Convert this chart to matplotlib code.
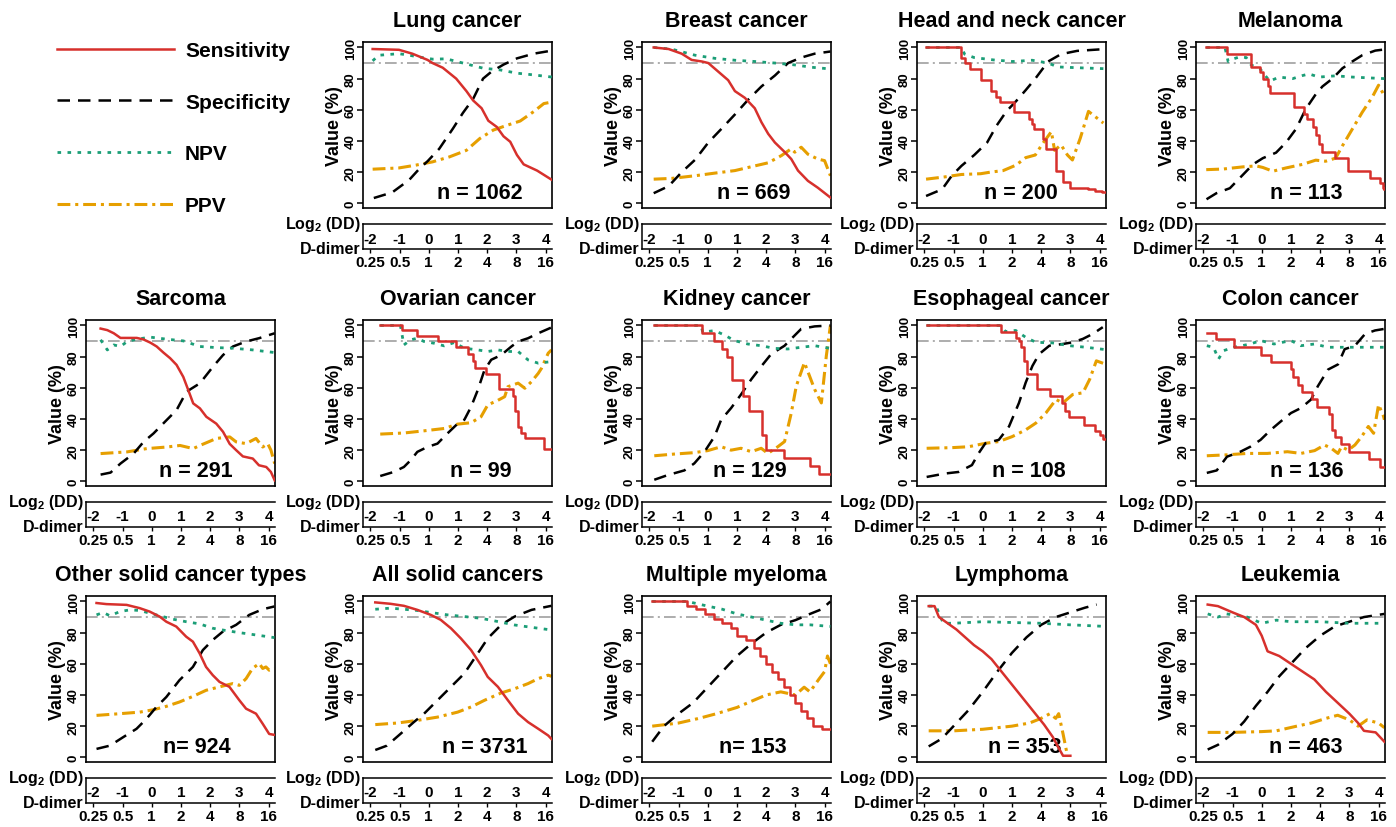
import matplotlib
matplotlib.use('Agg')
import matplotlib.pyplot as plt
from matplotlib.transforms import blended_transform_factory

plt.rcParams['font.family'] = ['Liberation Sans', 'DejaVu Sans']
plt.rcParams['font.weight'] = 'bold'
plt.rcParams['mathtext.fontset'] = 'custom'
plt.rcParams['mathtext.rm'] = 'Liberation Sans:bold'
plt.rcParams['mathtext.it'] = 'Liberation Sans:bold'
plt.rcParams['mathtext.bf'] = 'Liberation Sans:bold'

# ---------------- data ----------------
titles = ['Lung cancer', 'Breast cancer', 'Head and neck cancer', 'Melanoma',
          'Sarcoma', 'Ovarian cancer', 'Kidney cancer', 'Esophageal cancer', 'Colon cancer',
          'Other solid cancer types', 'All solid cancers', 'Multiple myeloma', 'Lymphoma', 'Leukemia']
n_labels = ['n = 1062', 'n = 669', 'n = 200', 'n = 113',
            'n = 291', 'n = 99', 'n = 129', 'n = 108', 'n = 136',
            'n= 924', 'n = 3731', 'n= 153', 'n = 353', 'n = 463']
log2_ticks = [-2, -1, 0, 1, 2, 3, 4]
ddimer_labels = ['0.25', '0.5', '1', '2', '4', '8', '16']
series_names = ['Sensitivity', 'Specificity', 'NPV', 'PPV']
reference_level = 90

# Lung
lung_sens_x = [-1.92, -1.02, -0.56, -0.04, 0.13, 0.48, 0.94, 1.29, 1.52, 1.81, 2.04, 2.33, 2.56, 2.79, 3.02, 3.25, 3.71, 4.22]
lung_sens_y = [99, 98.5, 96, 92, 90, 87, 80, 72, 66, 61, 53, 49, 43, 39.5, 31, 25, 21, 15]
lung_spec_x = [-1.88, -1.25, -0.67, -0.33, -0.04, 0.36, 0.83, 1.17, 1.52, 1.86, 2.15, 2.56, 3.02, 3.59, 4.22]
lung_spec_y = [3.4, 7, 15, 22, 27, 35, 48, 58, 67, 80, 84.5, 89, 93, 96, 98]
lung_npv_x = [-1.92, -1.71, -1.02, -0.67, -0.21, 0.13, 0.6, 1.17, 1.86, 2.44, 3.02, 3.59, 4.22]
lung_npv_y = [91.4, 95, 96, 95, 93.5, 92.5, 92.7, 90, 86.7, 85.6, 83.5, 82.4, 81]
lung_ppv_x = [-1.92, -1.02, -0.44, 0.13, 0.71, 1.29, 1.75, 2.21, 2.67, 3.13, 3.59, 3.94, 4.22]
lung_ppv_y = [21.9, 22.7, 24.5, 26.6, 29.8, 34, 41.6, 47, 50, 52.8, 58.8, 64, 65]

# Breast
breast_sens_x = [-1.85, -1.34, -0.89, -0.55, -0.2, 0.02, 0.36, 0.7, 0.93, 1.27, 1.61, 1.84, 2.07, 2.3, 2.64, 2.86, 3.09, 3.43, 3.77, 4.2]
breast_sens_y = [100, 99, 96, 92, 91, 90, 84.5, 79, 72, 67.7, 61, 52, 44.6, 39, 32.8, 28.4, 21, 14.4, 10, 3.7]
breast_spec_x = [-1.85, -1.34, -0.89, -0.43, 0.02, 0.48, 0.93, 1.39, 1.84, 2.3, 2.75, 3.2, 3.66, 4.2]
breast_spec_y = [6.5, 11, 20, 28, 39, 48, 57, 66.6, 75, 82, 90, 93.5, 96, 97.4]
breast_npv_x = [-1.85, -1.23, -0.43, 0.25, 0.93, 1.61, 2.3, 2.98, 3.55, 4.2]
breast_npv_y = [100, 98.9, 95, 93, 91.8, 91, 90, 88.8, 87.3, 86.2]
breast_ppv_x = [-1.85, -1.23, -0.43, 0.25, 0.93, 1.61, 2.07, 2.52, 2.86, 2.98, 3.2, 3.43, 3.77, 4.0, 4.2]
breast_ppv_y = [15.5, 16, 17.7, 19.4, 21, 24, 26, 30.6, 35, 32.8, 36, 31.5, 28.4, 27.4, 17.7]

# Head and neck
hn_sens_x = [-1.94, -0.73, -0.6, -0.45, -0.05, 0.3, 0.45, 0.6, 1.08, 1.6, 1.68, 1.74, 2.05, 2.15, 2.5, 2.75, 2.98, 3.6, 3.85, 4.1, 4.2]
hn_sens_y = [100, 93, 90, 86, 79, 72, 68, 65, 58.5, 54, 51, 48, 41, 35, 21, 14, 10, 9, 8, 7, 7]
hn_spec_x = [-1.94, -1.39, -1.06, -0.73, -0.29, 0.15, 0.48, 0.81, 1.14, 1.47, 1.8, 2.24, 2.68, 3.23, 4.13]
hn_spec_y = [4.7, 9, 17.7, 24, 31, 39, 50, 59, 65.5, 72.6, 80, 91, 95.7, 97.8, 98.9]
hn_npv_x = [-1.94, -0.73, -0.62, -0.29, 0.37, 1.03, 1.69, 2.24, 2.57, 3.23, 4.13]
hn_npv_y = [100, 100, 95.7, 93.5, 92, 91, 91.8, 90, 87.5, 87, 86.4]
hn_ppv_x = [-1.94, -1.28, -0.73, -0.07, 0.26, 0.7, 1.14, 1.47, 1.8, 2.02, 2.35, 2.46, 2.68, 2.9, 3.07, 3.34, 3.62, 4.13]
hn_ppv_y = [15.5, 17, 18.5, 19, 20, 21, 24.5, 29.3, 31, 37.5, 46, 34, 37.5, 31, 27.8, 41.8, 59, 51.5]

# Melanoma
mel_sens_x = [-1.9, -1.2, -0.38, -0.05, 0.04, 0.2, 0.3, 1.12, 1.45, 1.55, 1.74, 1.85, 1.96, 2.08, 2.5, 2.95, 3.7, 4.05, 4.15, 4.2]
mel_sens_y = [100, 96, 87.5, 84, 80, 75, 71, 62, 57, 54, 49, 44, 38, 33, 29, 21, 16, 13, 10, 9]
mel_spec_x = [-1.89, -1.55, -1.09, -0.64, -0.3, 0.04, 0.49, 0.83, 1.17, 1.51, 1.85, 2.08, 2.42, 2.76, 3.1, 3.44, 3.89, 4.2]
mel_spec_y = [2.6, 6.5, 9.7, 18.4, 25, 29, 32.5, 39, 47.6, 60.6, 70, 75, 80, 86.6, 91, 95, 98, 98.7]
mel_npv_x = [-1.9, -1.26, -1.15, -0.98, -0.75, -0.53, -0.36, -0.07, 0.27, 0.6, 1.06, 1.4, 1.62, 1.96, 2.53, 3.1, 4.2]
mel_npv_y = [100, 100, 91, 92.6, 94, 93.5, 88.7, 86.6, 78.4, 81, 80, 82, 83, 81, 81.8, 81, 80]
mel_ppv_x = [-1.9, -1.32, -0.64, -0.19, 0.04, 0.38, 0.83, 1.4, 1.85, 2.19, 2.53, 2.76, 3.1, 3.44, 3.78, 4.0, 4.17]
mel_ppv_y = [21.6, 22, 23.4, 24, 23, 20.6, 22.7, 25, 27.7, 27, 29, 36.8, 47.6, 58.4, 68, 75.8, 70]

# Sarcoma
sar_sens_x = [-1.75, -1.52, -1.3, -1.07, -0.51, -0.28, -0.05, 0.17, 0.4, 0.63, 0.85, 1.08, 1.25, 1.42, 1.65, 1.87, 2.21, 2.44, 2.67, 2.89, 3.12, 3.46, 3.67, 3.92, 4.08, 4.21]
sar_sens_y = [98, 97, 95, 92, 92, 91, 89, 86.5, 82.6, 79, 74.7, 67, 58.6, 50, 46.8, 41.4, 37, 31.8, 24, 20, 16, 14.6, 10.3, 9.2, 6, 0.6]
sar_spec_x = [-1.75, -1.41, -1.07, -0.62, -0.28, 0.06, 0.51, 0.85, 1.19, 1.65, 2.1, 2.44, 2.78, 3.23, 3.67, 4.21]
sar_spec_y = [4.3, 5.6, 11.4, 17.8, 25.3, 30.7, 39.3, 45.7, 57.5, 62.9, 73.6, 81, 86.5, 89.7, 91.8, 95]
sar_npv_x = [-1.75, -1.52, -1.3, -1.07, -0.84, -0.51, -0.05, 0.51, 1.08, 1.65, 2.21, 2.78, 3.46, 4.21]
sar_npv_y = [90.8, 84.3, 87.5, 86.5, 89.7, 91.2, 92.5, 91.2, 90.1, 86.5, 85.8, 85.4, 84.3, 82.6]
sar_ppv_x = [-1.75, -0.84, -0.17, 0.51, 0.97, 1.42, 1.65, 1.99, 2.21, 2.67, 2.89, 3.23, 3.57, 3.8, 3.97, 4.08, 4.21]
sar_ppv_y = [17.8, 18.9, 21, 22, 23, 21, 23, 25.7, 27.5, 28.5, 25.3, 24.2, 27.5, 22, 24.2, 20, 11.4]

# Ovarian
ova_sens_x = [-1.66, -0.92, -0.4, 0.33, 0.95, 1.35, 1.5, 1.6, 1.97, 2.4, 2.88, 2.95, 3.05, 3.15, 3.3, 3.95, 4.2]
ova_sens_y = [100, 97, 93, 90, 86, 82, 77, 72.5, 69, 59, 55, 45, 35, 31, 27.5, 21, 21]
ova_spec_x = [-1.66, -1.2, -0.85, -0.62, -0.39, -0.05, 0.3, 0.64, 0.99, 1.22, 1.45, 1.68, 1.91, 2.14, 2.48, 2.83, 3.06, 3.4, 3.75, 4.2]
ova_spec_y = [3.4, 6, 9.2, 13.5, 18.9, 22, 24.2, 30.7, 37, 39.5, 47.8, 58.6, 71.5, 78, 81, 86.5, 89.7, 91.8, 95, 98.7]
ova_npv_x = [-1.66, -0.97, -0.85, -0.62, -0.39, -0.16, 0.18, 0.53, 0.87, 1.22, 1.68, 2.02, 2.37, 2.71, 3.06, 3.4, 3.75, 4.2]
ova_npv_y = [100, 100, 87.5, 90.8, 91.8, 89.7, 88.6, 86.9, 89, 85.4, 84.3, 83.3, 84.3, 83.3, 83.3, 77.9, 75.8, 76.8]
ova_ppv_x = [-1.66, -0.85, -0.16, 0.53, 0.99, 1.45, 1.79, 2.02, 2.37, 2.6, 2.71, 3.06, 3.29, 3.52, 3.75, 3.86, 4.09, 4.2]
ova_ppv_y = [30.3, 31, 32.4, 33.9, 36.7, 37.6, 41.4, 49, 52, 54.3, 60.7, 63, 59.7, 64, 69.3, 72.5, 82.2, 84.3]

# Kidney
kid_sens_x = [-1.83, -0.2, 0.2, 0.5, 0.65, 0.83, 1.2, 1.4, 1.85, 2.0, 2.6, 3.5, 3.8, 4.2]
kid_sens_y = [100, 95, 90, 85, 80, 65, 55, 45, 30, 20, 15, 10, 5, 5]
kid_spec_x = [-1.83, -1.37, -0.8, -0.46, -0.11, 0.23, 0.46, 0.8, 1.14, 1.49, 1.83, 2.17, 2.63, 2.86, 3.2, 3.66, 4.2]
kid_spec_y = [1, 4, 7, 11.5, 19, 28.7, 39.5, 47, 55.7, 65.4, 73.7, 81.6, 87, 91.4, 97.8, 99.4, 100]
kid_npv_x = [-1.83, -0.23, -0.17, 0.23, 0.57, 0.91, 1.37, 1.83, 2.29, 2.74, 3.2, 3.66, 4.2]
kid_npv_y = [100, 100, 95.7, 96.7, 93.9, 90.3, 88.1, 87, 85.3, 84.9, 86, 87, 85.3]
kid_ppv_x = [-1.83, -1.14, -0.46, 0.0, 0.46, 0.8, 1.14, 1.49, 1.83, 2.06, 2.4, 2.63, 2.86, 3.03, 3.31, 3.66, 3.89, 4.06, 4.2]
kid_ppv_y = [16.4, 17.5, 18.4, 19.7, 22.2, 20, 21.2, 19, 21.2, 17.9, 22.2, 25.5, 43.8, 61, 76.2, 59, 50.3, 80.5, 100]

# Esophageal
eso_sens_x = [-1.92, 0.61, 1.15, 1.25, 1.3, 1.4, 1.5, 1.85, 2.3, 2.72, 2.82, 2.95, 3.45, 3.85, 4.0, 4.12, 4.2]
eso_sens_y = [100, 96, 92, 90, 86, 77, 69, 59, 54.5, 50, 45, 41, 36, 32, 30, 27, 27]
eso_spec_x = [-1.92, -1.29, -0.83, -0.37, -0.14, 0.09, 0.55, 0.9, 1.24, 1.47, 1.7, 1.93, 2.28, 2.74, 3.08, 3.43, 3.77, 4.11]
eso_spec_y = [2.8, 5, 6, 10.4, 18, 24.4, 26.6, 35.2, 50.3, 63.3, 74, 81.6, 87, 88.1, 89.2, 91.4, 94.6, 98.9]
eso_npv_x = [-1.92, 0.61, 0.78, 1.13, 1.47, 1.82, 2.39, 2.97, 3.54, 4.2]
eso_npv_y = [100, 100, 96.1, 96.8, 92.4, 89.2, 88.8, 87, 86, 84.5]
eso_ppv_x = [-1.92, -1.06, -0.48, 0.09, 0.55, 1.01, 1.47, 1.82, 2.16, 2.51, 2.74, 3.08, 3.43, 3.66, 3.89, 4.2]
eso_ppv_y = [21.2, 21.6, 22.2, 24.4, 25.5, 28.7, 33, 37.4, 43.8, 52.5, 50.3, 55.7, 56.8, 65.4, 77.3, 75.2]

# Colon
col_sens_x = [-1.88, -1.57, -0.96, -0.04, 0.31, 1.0, 1.08, 1.25, 1.38, 1.72, 1.9, 2.3, 2.4, 2.5, 2.7, 3.0, 3.68, 4.05, 4.2]
col_sens_y = [95, 91, 86, 81, 76.5, 72, 67, 62, 57, 52.5, 47.5, 43, 33, 28.5, 24, 19, 14.5, 9.5, 9.5]
col_spec_x = [-1.88, -1.54, -1.19, -0.73, -0.39, -0.04, 0.31, 0.65, 1.0, 1.34, 1.69, 1.92, 2.27, 2.61, 2.84, 3.19, 3.54, 3.88, 4.2]
col_spec_y = [5.4, 7, 15.8, 19, 22.2, 26.6, 33, 38.4, 43.8, 47, 52.5, 61, 71.7, 75, 84.8, 87, 94.6, 96.8, 97.8]
col_npv_x = [-1.88, -1.65, -1.48, -1.31, -0.96, -0.39, -0.04, 0.42, 1.0, 1.34, 1.81, 2.27, 2.96, 3.42, 4.2]
col_npv_y = [87, 86, 78.4, 83.8, 86, 88.1, 90.3, 88.1, 90.3, 87, 88.1, 86, 86, 86, 86]
col_ppv_x = [-1.88, -1.19, -0.5, 0.19, 0.88, 1.34, 1.81, 2.15, 2.38, 2.61, 2.73, 2.96, 3.19, 3.42, 3.65, 3.83, 4.0, 4.17, 4.2]
col_ppv_y = [16.4, 17, 17.9, 17.9, 19, 17.9, 19.7, 23.3, 21.2, 17.9, 22.2, 20, 23.3, 28.7, 35.2, 30.8, 49.2, 41.7, 39.5]

# Other solid cancer types
oth_sens_x = [-1.89, -1.55, -0.86, -0.41, -0.07, 0.27, 0.5, 0.84, 1.18, 1.41, 1.64, 1.86, 2.09, 2.32, 2.66, 3.0, 3.23, 3.57, 3.8, 4.02, 4.2]
oth_sens_y = [99, 98.3, 97.8, 95.7, 93.5, 90.3, 87, 83.9, 77.4, 74.2, 66.7, 58, 52.7, 48.4, 45.2, 36.6, 31.2, 28, 21.5, 15, 14.4]
oth_spec_x = [-1.89, -1.43, -0.98, -0.52, -0.18, 0.16, 0.5, 0.95, 1.41, 1.75, 2.09, 2.43, 2.89, 3.34, 3.8, 4.2]
oth_spec_y = [5.4, 7.5, 12.9, 18.3, 24.7, 32.3, 38.7, 49.5, 58, 68.8, 75.3, 80.6, 85, 91.4, 95, 96.8]
oth_npv_x = [-1.89, -1.66, -1.43, -1.09, -0.75, -0.41, -0.07, 0.27, 0.73, 1.18, 1.64, 2.09, 2.55, 3.0, 3.57, 4.2]
oth_npv_y = [91.4, 92.9, 90.8, 93.5, 94.6, 94.2, 92.5, 90.8, 88.6, 87, 85.6, 82.8, 81.3, 80, 78.5, 76.8]
oth_ppv_x = [-1.89, -1.09, -0.41, 0.05, 0.5, 0.95, 1.41, 1.86, 2.32, 2.77, 3.0, 3.23, 3.45, 3.68, 3.8, 3.91, 4.02, 4.2]
oth_ppv_y = [26.9, 28, 29, 30.5, 32.7, 35.5, 39.1, 43, 45.2, 47.3, 46.2, 50.5, 57, 60.2, 57, 58, 55.9, 57]

# All solid cancers
all_sens_x = [-1.83, -1.31, -0.85, -0.39, 0.07, 0.41, 0.76, 1.1, 1.45, 1.79, 2.02, 2.37, 2.71, 3.06, 3.4, 3.75, 4.09, 4.2]
all_sens_y = [99.4, 98.5, 97.2, 94.6, 91.4, 88.2, 82.8, 76.3, 68.8, 59.1, 51.6, 45.2, 36.6, 28, 22.6, 18.3, 14, 11.8]
all_spec_x = [-1.83, -1.43, -0.97, -0.51, -0.16, 0.3, 0.76, 1.22, 1.68, 2.02, 2.48, 2.94, 3.52, 4.2]
all_spec_y = [4.7, 7.5, 15, 22.6, 28, 36.6, 45.2, 53.8, 66.7, 76.3, 85, 90.3, 94.6, 97.2]
all_npv_x = [-1.83, -1.31, -0.85, -0.39, 0.07, 0.64, 1.22, 1.79, 2.37, 2.94, 3.52, 4.2]
all_npv_y = [95, 95.7, 95, 94.2, 92.9, 91.4, 90.3, 89.2, 87.1, 84.9, 83.4, 81.7]
all_ppv_x = [-1.83, -1.08, -0.39, 0.3, 0.99, 1.45, 1.91, 2.48, 2.94, 3.4, 3.75, 4.09, 4.2]
all_ppv_y = [21, 22, 23.7, 25.8, 29, 32.3, 36.6, 41.3, 44, 47.3, 50.5, 52.7, 52]

# Multiple myeloma
mm_sens_x = [-1.9, -0.7, -0.4, -0.1, 0.2, 0.5, 0.8, 1.0, 1.3, 1.6, 1.8, 2.0, 2.2, 2.4, 2.6, 2.8, 3.0, 3.2, 3.4, 3.6, 3.9, 4.2]
mm_sens_y = [100, 97, 95, 92, 89, 86, 83, 78, 75, 70, 65, 60, 55, 50, 45, 40, 35, 30, 25, 20, 18, 18]
mm_spec_x = [-1.9, -1.5, -1.0, -0.5, 0, 0.5, 1.0, 1.5, 2.0, 2.5, 3.0, 3.5, 3.9, 4.2]
mm_spec_y = [10, 20, 28, 35, 45, 55, 65, 73, 80, 85, 88, 92, 95, 100]
mm_npv_x = [-1.9, -0.7, 0, 0.5, 1.0, 1.5, 2.0, 2.5, 3.0, 3.5, 4.2]
mm_npv_y = [100, 100, 97, 95, 92, 90, 88, 86, 85, 85, 84]
mm_ppv_x = [-1.9, -1.0, -0.3, 0.3, 1.0, 1.5, 2.0, 2.5, 3.0, 3.3, 3.5, 3.8, 4.0, 4.1, 4.2]
mm_ppv_y = [20, 22, 25, 28, 32, 36, 40, 42, 40, 45, 42, 50, 55, 65, 60]

# Lymphoma
lym_sens_x = [-1.85, -1.65, -1.5, -1.2, -0.9, -0.6, -0.3, 0, 0.3, 0.6, 0.9, 1.2, 1.5, 1.8, 2.1, 2.4, 2.6, 2.75, 3.0]
lym_sens_y = [97, 97, 90, 86, 82, 77, 72, 68, 63, 56, 49, 42, 35, 28, 21, 13, 6, 1, 1]
lym_spec_x = [-1.85, -1.4, -1.0, -0.5, 0, 0.5, 1.0, 1.5, 2.0, 2.5, 3.0, 3.5, 3.9]
lym_spec_y = [7, 12, 20, 30, 42, 55, 67, 77, 85, 90, 93, 96, 98]
lym_npv_x = [-1.85, -1.6, -1.35, -1.0, 0, 1.0, 2.0, 3.0, 4.2]
lym_npv_y = [97, 97, 86, 86, 87, 86.5, 86, 85, 84]
lym_ppv_x = [-1.85, -1.0, 0, 1.0, 1.6, 2.0, 2.3, 2.5, 2.6, 2.75, 2.9]
lym_ppv_y = [17, 17, 18, 20, 22, 25, 28, 25, 28, 15, 1]

# Leukemia
leu_sens_x = [-1.85, -1.5, -1.0, -0.6, -0.2, 0.0, 0.2, 0.6, 1.0, 1.4, 1.8, 2.2, 2.6, 3.0, 3.3, 3.5, 3.9, 4.2]
leu_sens_y = [98, 97, 93, 90, 85, 78, 68, 65, 60, 55, 50, 42, 35, 28, 22, 17, 16, 10]
leu_spec_x = [-1.85, -1.5, -1.0, -0.6, -0.2, 0.2, 0.6, 1.1, 1.5, 2.0, 2.5, 3.0, 3.5, 4.2]
leu_spec_y = [5, 8, 15, 23, 33, 42, 52, 62, 70, 78, 84, 87, 90, 92]
leu_npv_x = [-1.85, -1.5, -1.2, -0.5, 0, 0.5, 1.0, 2.0, 3.0, 4.2]
leu_npv_y = [92, 90, 92, 90, 86, 88, 87, 87, 86, 86]
leu_ppv_x = [-1.85, -1.0, 0.0, 0.5, 1.2, 1.7, 2.2, 2.6, 3.0, 3.3, 3.6, 4.0, 4.2]
leu_ppv_y = [16, 16, 16.5, 17, 20, 22, 25, 27, 24, 20, 24, 22, 19]

panel_data = [
    (lung_sens_x, lung_sens_y, lung_spec_x, lung_spec_y, lung_npv_x, lung_npv_y, lung_ppv_x, lung_ppv_y),
    (breast_sens_x, breast_sens_y, breast_spec_x, breast_spec_y, breast_npv_x, breast_npv_y, breast_ppv_x, breast_ppv_y),
    (hn_sens_x, hn_sens_y, hn_spec_x, hn_spec_y, hn_npv_x, hn_npv_y, hn_ppv_x, hn_ppv_y),
    (mel_sens_x, mel_sens_y, mel_spec_x, mel_spec_y, mel_npv_x, mel_npv_y, mel_ppv_x, mel_ppv_y),
    (sar_sens_x, sar_sens_y, sar_spec_x, sar_spec_y, sar_npv_x, sar_npv_y, sar_ppv_x, sar_ppv_y),
    (ova_sens_x, ova_sens_y, ova_spec_x, ova_spec_y, ova_npv_x, ova_npv_y, ova_ppv_x, ova_ppv_y),
    (kid_sens_x, kid_sens_y, kid_spec_x, kid_spec_y, kid_npv_x, kid_npv_y, kid_ppv_x, kid_ppv_y),
    (eso_sens_x, eso_sens_y, eso_spec_x, eso_spec_y, eso_npv_x, eso_npv_y, eso_ppv_x, eso_ppv_y),
    (col_sens_x, col_sens_y, col_spec_x, col_spec_y, col_npv_x, col_npv_y, col_ppv_x, col_ppv_y),
    (oth_sens_x, oth_sens_y, oth_spec_x, oth_spec_y, oth_npv_x, oth_npv_y, oth_ppv_x, oth_ppv_y),
    (all_sens_x, all_sens_y, all_spec_x, all_spec_y, all_npv_x, all_npv_y, all_ppv_x, all_ppv_y),
    (mm_sens_x, mm_sens_y, mm_spec_x, mm_spec_y, mm_npv_x, mm_npv_y, mm_ppv_x, mm_ppv_y),
    (lym_sens_x, lym_sens_y, lym_spec_x, lym_spec_y, lym_npv_x, lym_npv_y, lym_ppv_x, lym_ppv_y),
    (leu_sens_x, leu_sens_y, leu_spec_x, leu_spec_y, leu_npv_x, leu_npv_y, leu_ppv_x, leu_ppv_y),
]

# ---------------- style / layout ----------------
step_sens_panels = {2, 3, 5, 6, 7, 8, 11}
n_label_x = [1.74, 1.58, 1.31, 1.53, 1.51, 1.78, 1.44, 1.57, 1.53, 1.53, 1.91, 1.55, 1.45, 1.5]
slots = [(0, 1), (0, 2), (0, 3), (0, 4),
         (1, 0), (1, 1), (1, 2), (1, 3), (1, 4),
         (2, 0), (2, 1), (2, 2), (2, 3), (2, 4)]
col_left = [86, 363, 642, 917, 1196]
row_top = [43, 321, 597]
box_w, box_h = 189, 166
low_gap, low_h = 16, 25
W, H = 1396, 828

c_sens = '#D7302C'
c_spec = '#000000'
c_npv = '#1B9E77'
c_ppv = '#E69F00'
ls_sens = '-'
ls_spec = (0, (5.0, 3.2))
ls_npv = (0, (1.3, 2.3))
ls_ppv = (0, (4.2, 1.6, 1.0, 1.6))
lw = 1.8
xlim = (-2.25, 4.22)
ylim = (-3, 103.5)

fig = plt.figure(figsize=(W / 100, H / 100), dpi=100)


def add_ax(left, top, w, h):
    return fig.add_axes([left / W, 1 - (top + h) / H, w / W, h / H])


legend_handles = None
for i, (r, c) in enumerate(slots):
    sx, sy, px, py, nx, ny, vx, vy = panel_data[i]
    left, top = col_left[c], row_top[r]
    ax = add_ax(left, top, box_w, box_h)
    ax.axhline(reference_level, color='#A0A0A0', lw=1.2, ls=(0, (7, 2.5, 1.2, 2.5)), zorder=1)
    h_sens, = ax.plot(sx, sy, color=c_sens, lw=lw, ls=ls_sens,
                      drawstyle='steps-post' if i in step_sens_panels else 'default', zorder=4)
    h_spec, = ax.plot(px, py, color=c_spec, lw=lw, ls=ls_spec, zorder=3)
    h_npv, = ax.plot(nx, ny, color=c_npv, lw=lw + 0.2, ls=ls_npv, zorder=3)
    h_ppv, = ax.plot(vx, vy, color=c_ppv, lw=lw + 0.4, ls=ls_ppv, zorder=2)
    if legend_handles is None:
        legend_handles = [h_sens, h_spec, h_npv, h_ppv]
    ax.set_xlim(*xlim)
    ax.set_ylim(*ylim)
    ax.set_xticks([])
    ax.set_yticks([0, 20, 40, 60, 80, 100])
    ax.tick_params(axis='y', labelsize=9.5, length=4, width=1.1, pad=0.5)
    for lab in ax.get_yticklabels():
        lab.set_rotation(90)
        lab.set_va('center')
        lab.set_fontweight('bold')
    ax.set_ylabel('Value (%)', fontsize=13, fontweight='bold', labelpad=1)
    for sp in ax.spines.values():
        sp.set_linewidth(1.2)
    ax.text(0.5, 1.13, titles[i], transform=ax.transAxes, ha='center', va='center',
            fontsize=15.5, fontweight='bold')
    ax.text(n_label_x[i], 7, n_labels[i], ha='center', va='center', fontsize=15.5, fontweight='bold')

    # lower double axis
    ax2 = add_ax(left, top + box_h + low_gap, box_w, low_h)
    ax2.set_xlim(*xlim)
    ax2.set_ylim(0, 1)
    ax2.spines['right'].set_visible(False)
    for sp in ['left', 'top', 'bottom']:
        ax2.spines[sp].set_linewidth(1.1)
    ax2.set_yticks([])
    ax2.set_xticks(log2_ticks)
    ax2.set_xticklabels(ddimer_labels, fontsize=11, fontweight='bold')
    ax2.tick_params(axis='x', length=3, width=1, pad=1.5)
    tr = blended_transform_factory(ax2.transData, ax2.transAxes)
    for t in log2_ticks:
        ax2.text(t, 0.42, str(t), transform=tr, ha='center', va='center', fontsize=11, fontweight='bold')
    ax2.text(-0.015, 1.0, 'Log$_2$ (DD)', transform=ax2.transAxes, ha='right', va='center',
             fontsize=11.5, fontweight='bold')
    ax2.text(-0.015, 0.0, 'D-dimer', transform=ax2.transAxes, ha='right', va='center',
             fontsize=11.5, fontweight='bold')

fig.legend(legend_handles, series_names, loc='upper left', bbox_to_anchor=(57 / W, 1 - 42 / H),
           frameon=False, handlelength=5.6, handletextpad=0.55, labelspacing=1.57,
           borderpad=0, borderaxespad=0, prop={'weight': 'bold', 'size': 15})

fig.savefig('out.png', dpi=100)
